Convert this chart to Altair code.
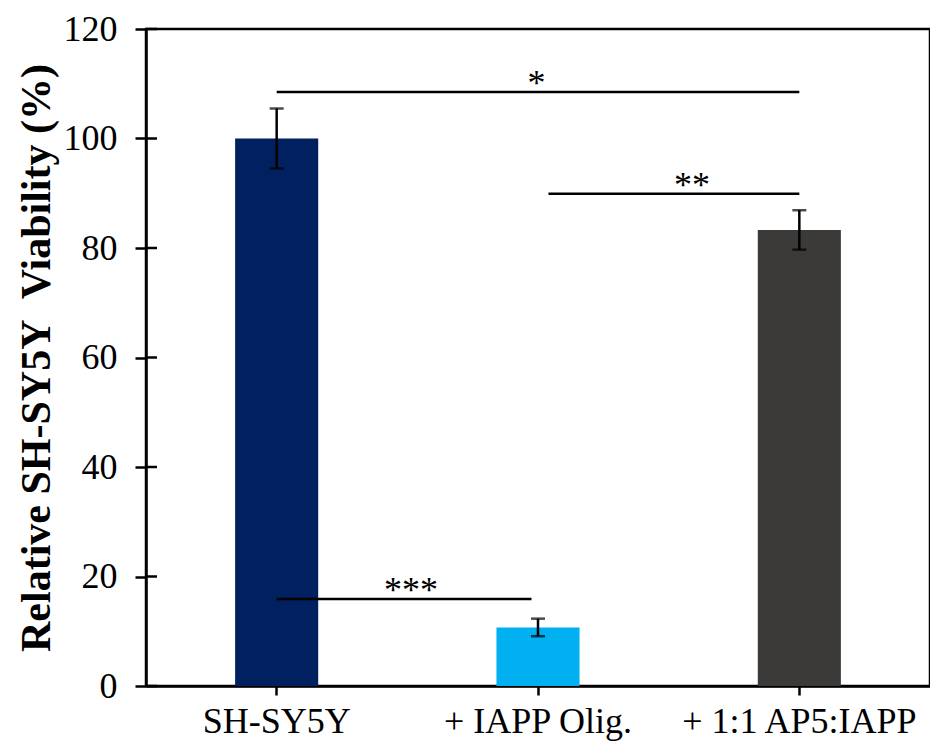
import altair as alt
import pandas as pd

# ---- data ----
categories = ["SH-SY5Y", "+ IAPP Olig.", "+ 1:1 AP5:IAPP"]
viability = [100.0, 10.7, 83.3]
errors = [5.5, 1.6, 3.6]
bar_colors = ["#002060", "#00B0F0", "#3B3A38"]

y_ticks = [0, 20, 40, 60, 80, 100, 120]

# significance brackets (x in category units: 0..3, centers at 0.5, 1.5, 2.5)
sig_x1 = [0.5, 1.54, 0.5]
sig_x2 = [2.5, 2.5, 1.475]
sig_y = [108.5, 89.9, 15.9]
sig_label = ["*", "**", "***"]
sig_label_x = [1.494, 2.089, 1.014]

df = pd.DataFrame({
    "cat": categories,
    "v": viability,
    "lo": [v - e for v, e in zip(viability, errors)],
    "hi": [v + e for v, e in zip(viability, errors)],
})
sig = pd.DataFrame({"x1": sig_x1, "x2": sig_x2, "y": sig_y,
                    "lab": sig_label, "lx": sig_label_x})
ticks_df = pd.DataFrame({"t": y_ticks})

FONT = "Liberation Serif"

yscale = alt.Scale(domain=[0, 120], nice=False)
bscale = alt.Scale(domain=categories, paddingInner=0.682, paddingOuter=0.341)

xaxis = alt.Axis(title=None, labelAngle=0, tickSize=9,
                 labelPadding=9, labelFontSize=36, labelLimit=0,
                 labelFont=FONT, labelColor="black")
xband = alt.X("cat:N", sort=categories, scale=bscale, axis=xaxis)

yaxis = alt.Axis(values=y_ticks, title="Relative SH-SY5Y\u00a0 Viability (%)",
                 titleFont=FONT, titleFontSize=42, titleFontWeight="bold",
                 titleColor="black", titlePadding=5, tickSize=11,
                 labelPadding=18, labelFontSize=36, grid=False,
                 labelFont=FONT, labelColor="black")

bars = alt.Chart(df).mark_bar().encode(
    x=xband,
    y=alt.Y("v:Q", scale=yscale, axis=yaxis),
    color=alt.Color("cat:N", sort=categories,
                    scale=alt.Scale(domain=categories, range=bar_colors),
                    legend=None),
)

err_rule = alt.Chart(df).mark_rule(color="black", strokeWidth=2.5).encode(
    x=xband,
    y=alt.Y("lo:Q", scale=yscale, axis=yaxis),
    y2="hi:Q",
)
cap_lo = alt.Chart(df).mark_tick(color="black", size=14, thickness=2.5).encode(
    x=xband,
    y=alt.Y("lo:Q", scale=yscale, axis=yaxis),
)
cap_hi = alt.Chart(df).mark_tick(color="black", size=14, thickness=2.5).encode(
    x=xband,
    y=alt.Y("hi:Q", scale=yscale, axis=yaxis),
)

inner_ticks = alt.Chart(ticks_df).mark_rule(color="black", strokeWidth=2.5).encode(
    y=alt.Y("t:Q", scale=yscale, axis=yaxis),
    x=alt.value(0),
    x2=alt.value(11),
)

xq = alt.Scale(domain=[0, 3], nice=False, zero=False)
sig_lines = alt.Chart(sig).mark_rule(color="black", strokeWidth=2.5).encode(
    x=alt.X("x1:Q", scale=xq, axis=None),
    x2="x2:Q",
    y=alt.Y("y:Q", scale=yscale, axis=yaxis),
)
sig_text = alt.Chart(sig).mark_text(font=FONT, fontSize=36, color="black",
                                    baseline="alphabetic", dy=3).encode(
    x=alt.X("lx:Q", scale=xq, axis=None),
    y=alt.Y("y:Q", scale=yscale, axis=yaxis),
    text="lab:N",
)

base = alt.layer(bars, err_rule, cap_lo, cap_hi, inner_ticks)
annot = alt.layer(sig_lines, sig_text)

chart = alt.layer(base, annot).resolve_scale(x="independent").properties(
    width=784, height=657,
    background="white",
    autosize=alt.AutoSizeParams(type="none"),
    padding={"left": 138, "top": 21, "right": 0, "bottom": 55},
).configure_view(
    stroke="black", strokeWidth=2.5
).configure_axis(
    labelFont=FONT, labelColor="black", domainColor="black", domainWidth=2.5,
    tickColor="black", tickWidth=2.5, grid=False,
)

chart.save("out.html", embed_options={"renderer": "svg", "actions": False})
